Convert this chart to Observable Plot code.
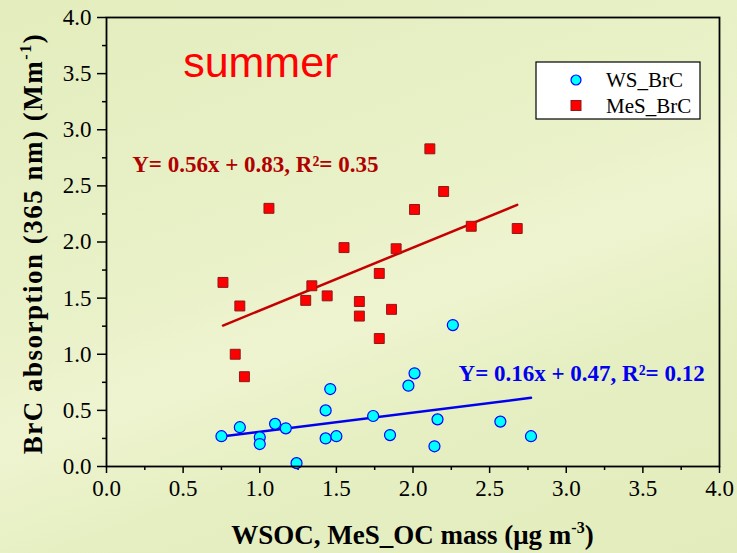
<!DOCTYPE html>
<html>
<head>
<meta charset="utf-8">
<script src="https://cdn.jsdelivr.net/npm/d3@7"></script>
<script src="https://cdn.jsdelivr.net/npm/@observablehq/plot@0.6"></script>
<style>
  html, body { margin: 0; padding: 0; }
  body {
    width: 737px; height: 553px; overflow: hidden;
    background: linear-gradient(160deg, #e3edbd 0%, #e9f1c8 40%, #eef4d0 55%, #e6efc2 70%, #e2ecbc 100%);
  }
  svg { display: block; }
  svg text { font-family: "Liberation Serif", "Times New Roman", serif; }
</style>
</head>
<body>
<div id="chart"></div>
<script>
// ---- data ----
const wsX  = [0.75, 0.87, 1.00, 1.00, 1.10, 1.17, 1.24, 1.43, 1.46, 1.43, 1.50, 1.74, 1.85, 1.97, 2.01, 2.16, 2.14, 2.26, 2.57, 2.77];
const wsY  = [0.27, 0.35, 0.26, 0.20, 0.38, 0.34, 0.03, 0.50, 0.69, 0.25, 0.27, 0.45, 0.28, 0.72, 0.83, 0.42, 0.18, 1.26, 0.40, 0.27];
const mesX = [0.76, 1.06, 0.87, 0.84, 0.90, 1.30, 1.34, 1.44, 1.55, 1.65, 1.65, 1.78, 1.78, 1.86, 1.89, 2.01, 2.11, 2.20, 2.38, 2.68];
const mesY = [1.64, 2.30, 1.43, 1.00, 0.80, 1.48, 1.61, 1.52, 1.95, 1.47, 1.34, 1.72, 1.14, 1.40, 1.94, 2.29, 2.83, 2.45, 2.14, 2.12];

// fitted lines as drawn in the reference
const fitSeries    = ["WS_BrC", "MeS_BrC"];
const fitSlope     = [0.171, 0.56];
const fitIntercept = [0.138, 0.83];
const fitXmin      = [0.75, 0.76];
const fitXmax      = [2.77, 2.68];

const seriesNames  = ["WS_BrC", "MeS_BrC"];
const eqLabels     = ["Y= 0.16x + 0.47, R\u00B2= 0.12", "Y= 0.56x + 0.83, R\u00B2= 0.35"];
const eqX          = [2.297, 0.168];
const eqY          = [0.826, 2.685];
const seasonLabel  = "summer";

const xTicks = [0, 0.5, 1, 1.5, 2, 2.5, 3, 3.5, 4];
const yTicks = [0, 0.5, 1, 1.5, 2, 2.5, 3, 3.5, 4];
const minorTicks = [0.25, 0.75, 1.25, 1.75, 2.25, 2.75, 3.25, 3.75];

// ---- build tables ----
const ws  = wsX.map((x, i) => ({x, y: wsY[i]}));
const mes = mesX.map((x, i) => ({x, y: mesY[i]}));
const fitLines = fitSeries.flatMap((s, i) => [fitXmin[i], fitXmax[i]].map(x => ({series: s, x, y: fitSlope[i] * x + fitIntercept[i]})));
const eqs = eqLabels.map((t, i) => ({t, x: eqX[i], y: eqY[i], series: seriesNames[i]}));

const blue = "#0000ee", darkRed = "#c40000";
const font = "Liberation Serif";

const plot = Plot.plot({
  width: 737, height: 553,
  marginLeft: 106, marginRight: 18, marginTop: 17, marginBottom: 87,
  x: {domain: [0, 4]},
  y: {domain: [0, 4]},
  style: {background: "transparent", color: "black", overflow: "visible"},
  marks: [
    Plot.axisX({ticks: minorTicks, tickSize: 4, tickFormat: () => "", label: null, strokeWidth: 1.5}),
    Plot.axisY({ticks: minorTicks, tickSize: 4, tickFormat: () => "", label: null, strokeWidth: 1.5}),
    Plot.axisX({ticks: xTicks, tickSize: 7, tickPadding: 6, tickFormat: d => d.toFixed(1), fontSize: 23, fontFamily: font, fontVariant: "normal", label: null, strokeWidth: 1.5}),
    Plot.axisY({ticks: yTicks, tickSize: 9, tickPadding: 6, tickFormat: d => d.toFixed(1), fontSize: 23, fontFamily: font, fontVariant: "normal", label: null, strokeWidth: 1.5}),
    Plot.line(fitLines, {x: "x", y: "y", z: "series", stroke: d => d.series === "WS_BrC" ? blue : darkRed, strokeWidth: 2.5}),
    Plot.dot(ws, {x: "x", y: "y", r: 5.5, fill: "#00ffff", stroke: "#0000ff", strokeWidth: 1.2}),
    Plot.dot(mes, {x: "x", y: "y", symbol: "square", r: 5.6, fill: "#ff0000", stroke: "#8b1a1a", strokeWidth: 1}),
    Plot.text(eqs, {x: "x", y: "y", text: "t", textAnchor: "start", fontSize: 23, fontWeight: "bold", fontFamily: font,
      fill: d => d.series === "WS_BrC" ? blue : "#b00000"}),
    Plot.text([seasonLabel], {x: 0.5, y: 3.59, text: d => d, textAnchor: "start", fontSize: 43,
      fontFamily: "Liberation Sans", fill: "#ff0000"}),
    Plot.frame({stroke: "black", strokeWidth: 1.8})
  ]
});
document.getElementById("chart").appendChild(plot);
// keep the "summer" label in a sans face despite the serif CSS default
d3.select(plot).selectAll("text").filter(function() { return this.textContent === seasonLabel; })
  .style("font-family", "'Liberation Sans', Arial, sans-serif");

// ---- axis titles with superscripts, and legend ----
const svg = d3.select(plot);
const xs = plot.scale("x"), ys = plot.scale("y");
const cx = (xs.apply(0) + xs.apply(4)) / 2;
const cy = (ys.apply(0) + ys.apply(4)) / 2;

const xt = svg.append("text").attr("x", cx).attr("y", 544).attr("text-anchor", "middle")
  .attr("font-size", 27).attr("font-weight", "bold").attr("fill", "black");
xt.append("tspan").text("WSOC, MeS_OC mass (\u03BCg m");
xt.append("tspan").attr("dy", -11).attr("font-size", 16).text("-3");
xt.append("tspan").attr("dy", 11).text(")");

const yt = svg.append("text").attr("transform", `translate(42,${cy + 2}) rotate(-90)`).attr("text-anchor", "middle")
  .attr("font-size", 27).attr("font-weight", "bold").attr("fill", "black")
  .attr("letter-spacing", 1.5);
yt.append("tspan").text("BrC absorption (365 nm) (Mm");
yt.append("tspan").attr("dy", -11).attr("font-size", 16).text("-1");
yt.append("tspan").attr("dy", 11).text(")");

// legend
const lg = svg.append("g").attr("transform", "translate(536,62)");
lg.append("rect").attr("width", 164).attr("height", 57).attr("fill", "white").attr("stroke", "black").attr("stroke-width", 1.2);
lg.append("circle").attr("cx", 40).attr("cy", 18).attr("r", 5).attr("fill", "#00ffff").attr("stroke", "#0000ff").attr("stroke-width", 1.2);
lg.append("rect").attr("x", 35).attr("y", 38.5).attr("width", 10).attr("height", 10).attr("fill", "#ff0000").attr("stroke", "#8b1a1a");
lg.append("text").attr("x", 70).attr("y", 25).attr("text-anchor", "start").attr("font-size", 21).text(seriesNames[0]);
lg.append("text").attr("x", 70).attr("y", 50.5).attr("text-anchor", "start").attr("font-size", 21).text(seriesNames[1]);
</script>
</body>
</html>
